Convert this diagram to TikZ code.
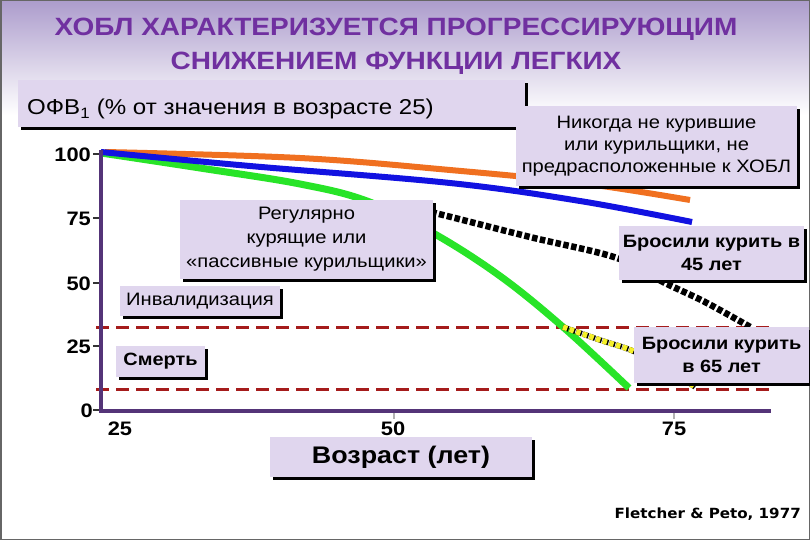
\documentclass[tikz,border=0pt]{standalone}
\usepackage{fontspec}
\setmainfont{Liberation Sans}[FakeStretch=1.12]
\newfontfamily\dejab{DejaVu Sans Bold}[FakeStretch=1.08]
\usetikzlibrary{shadows}
\definecolor{bgtop}{RGB}{172,156,204}
\definecolor{titlec}{RGB}{112,48,160}
\definecolor{boxfill}{RGB}{224,214,238}
\definecolor{axisc}{RGB}{84,52,120}
\definecolor{dashred}{RGB}{165,28,28}
\definecolor{corange}{RGB}{240,112,32}
\definecolor{cblue}{RGB}{18,18,225}
\definecolor{cgreen}{RGB}{40,228,40}
\definecolor{cyellow}{RGB}{245,240,40}
\tikzset{
  titletext/.style={text=titlec, font=\bfseries\fontsize{25}{30}\selectfont, inner sep=0pt, anchor=base},
  labbox/.style={fill=boxfill, inner sep=0pt, align=center,
    drop shadow={shadow xshift=3pt, shadow yshift=-3pt, fill=black, opacity=1}},
  regtext/.style={font=\fontsize{18}{22}\selectfont},
  boldtext/.style={font=\bfseries\fontsize{17.8}{23.5}\selectfont},
  ticklab/.style={font=\bfseries\fontsize{19.5}{20}\selectfont, inner sep=0pt},
  axisline/.style={draw=axisc, line width=4pt},
  limitline/.style={draw=dashred, line width=3pt, dash pattern=on 13pt off 7pt},
  curve/.style={line width=6pt, line cap=butt},
}
\begin{document}
\begin{tikzpicture}[x=1pt,y=-1pt]
\useasboundingbox (0,0) rectangle (810,540);
\fill[white] (0,0) rectangle (810,540);
\shade[top color=bgtop, bottom color=white] (0,0) rectangle (810,115);
\draw[gray!80!black, line width=1.5pt] (0.75,0.75) rectangle (809.25,539.25);

% title
\node[titletext] (t1) at (396,36) {ХОБЛ ХАРАКТЕРИЗУЕТСЯ ПРОГРЕССИРУЮЩИМ};
\node[titletext] (t2) at (396,70) {СНИЖЕНИЕМ ФУНКЦИИ ЛЕГКИХ};

% limit lines
\coordinate (d1a) at (96,327); \coordinate (d1b) at (771,327);
\coordinate (d2a) at (96,389); \coordinate (d2b) at (771,389);
\draw[limitline] (d1a) -- (d1b);
\draw[limitline] (d2a) -- (d2b);

% curves
\draw[curve, corange] plot[smooth, tension=0.6] coordinates {(105,152) (300,158) (450,170) (580,183) (690,200)};
\draw[curve, cgreen, line width=7pt] plot[smooth, tension=0.6] coordinates {(101,153) (200,168) (300,184) (367,201) (433,233) (500,276) (563,327) (629,388)};
\draw[curve, cblue] plot[smooth, tension=0.6] coordinates {(101,152) (250,166) (450,183) (580,201) (692,222)};
\draw[line width=6.5pt, black, dash pattern=on 5.5pt off 2.5pt] plot[smooth, tension=0.6] coordinates {(400,205) (435,213) (530,237) (617,258) (663,282) (705,302) (752,328)};
\draw[line width=5.5pt, black, dash pattern=on 6pt off 1pt] plot[smooth, tension=0.6] coordinates {(563,327) (600,340) (633,351) (670,370) (695,387)};
\draw[line width=5.5pt, cyellow, dash pattern=on 4.5pt off 2.5pt] plot[smooth, tension=0.6] coordinates {(563,327) (600,340) (633,351) (670,370) (695,387)};

% axes
\coordinate (ytop) at (101,150); \coordinate (orig) at (101,411); \coordinate (xend) at (771,411);
\draw[axisline] (ytop) -- (orig) -- (xend);
\foreach \yy in {154,218,283,346,410}{
  \draw[black!80, line width=1.5pt] (93,\yy) -- (99,\yy);
}
\node[ticklab, anchor=east] (y100) at (91,155) {100};
\node[ticklab, anchor=east] (y75) at (91,219) {75};
\node[ticklab, anchor=east] (y50) at (91,284) {50};
\node[ticklab, anchor=east] (y25) at (91,347) {25};
\node[ticklab, anchor=east] (y0) at (93,411) {0};
\draw[gray!60, line width=1.5pt] (394,413) -- (394,419);
\draw[gray!60, line width=1.5pt] (674,413) -- (674,419);
\node[ticklab] (x25) at (120,429) {25};
\node[ticklab] (x50) at (393,429) {50};
\node[ticklab] (x75) at (674,429) {75};

% boxes
\node[labbox, minimum width=507pt, minimum height=47pt] (ylab) at (271.5,103.5) {};
\node[font=\fontsize{21.5}{24}\selectfont, anchor=base west, inner sep=0pt] (ylabtext) at (27,115) {ОФВ\textsubscript{1} (\% от значения в возрасте 25)};
\node[labbox, regtext, minimum width=281pt, minimum height=80pt] (never) at (656.5,146) {Никогда не курившие\\или курильщики, не\\предрасположенные к ХОБЛ};
\node[labbox, regtext, minimum width=253pt, minimum height=79pt, font=\fontsize{18}{24}\selectfont] (regular) at (306.5,239.5) {Регулярно\\курящие или\\«пассивные курильщики»};
\node[labbox, regtext, minimum width=160pt, minimum height=30pt] (inval) at (200,301) {Инвалидизация};
\node[labbox, boldtext, minimum width=89pt, minimum height=31pt] (death) at (160.5,361.5) {Смерть};
\node[labbox, boldtext, minimum width=185pt, minimum height=54pt] (q45) at (711.5,253) {Бросили курить в\\45 лет};
\node[labbox, boldtext, minimum width=175pt, minimum height=56pt] (q65) at (721.5,355) {Бросили курить\\в 65 лет};
\node[labbox, font=\bfseries\fontsize{24}{26}\selectfont, minimum width=262pt, minimum height=40pt] (age) at (401,457) {Возраст (лет)};

\node[font=\dejab\fontsize{14}{16}\selectfont, anchor=east, inner sep=0pt] (cite) at (801,514) {Fletcher \& Peto, 1977};
\end{tikzpicture}
\end{document}
